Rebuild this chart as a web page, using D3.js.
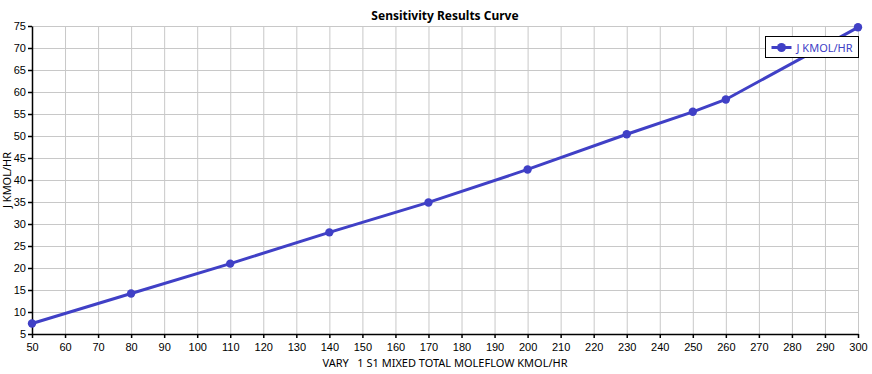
<!DOCTYPE html>
<html>
<head>
<meta charset="utf-8">
<script src="https://cdn.jsdelivr.net/npm/d3@7"></script>
<style>
  body { margin: 0; background: #fff; }
  svg { display: block; font-family: "Noto Sans", "Open Sans", sans-serif; }
  .grid line { stroke: #c8c8c8; stroke-width: 1; }
  .axis text { font-size: 11px; fill: #000; }
</style>
</head>
<body>
<svg width="872" height="374"></svg>
<script>
// data
const flowValues = [50, 80, 110, 140, 170, 200, 230, 250, 260, 300];
const jValues = [7.4, 14.2, 21.0, 28.1, 34.9, 42.4, 50.4, 55.5, 58.3, 74.7];
const xTicks = d3.range(50, 301, 10);
const yTicks = d3.range(5, 76, 5);
const seriesName = 'J KMOL/HR';

function whenLoaded() {
const svg = d3.select('svg');
const color = '#4040c6';

const x = d3.scaleLinear().domain([50, 300]).range([32, 858]);
const y = d3.scaleLinear().domain([5, 75]).range([334, 26]);

// grid
const grid = svg.append('g').attr('class', 'grid');
grid.selectAll('.gx').data(xTicks.slice(1))
  .enter().append('line')
    .attr('x1', d => x(d) + 0.5).attr('x2', d => x(d) + 0.5)
    .attr('y1', y(75)).attr('y2', y(5));
grid.selectAll('.gy').data(yTicks.slice(1))
  .enter().append('line')
    .attr('y1', d => y(d) + 0.5).attr('y2', d => y(d) + 0.5)
    .attr('x1', x(50)).attr('x2', x(300));

svg.append('g')
    .attr('class', 'axis')
    .attr('transform', `translate(0,${y(5)})`)
    .call(d3.axisBottom(x).tickValues(xTicks).tickSize(4).tickSizeOuter(0))
    .call(g => g.selectAll('line,path').attr('stroke', '#000').attr('stroke-width', 1.5))
    .call(g => g.selectAll('text').attr('dy', '0.9em'));

svg.append('g')
    .attr('class', 'axis')
    .attr('transform', `translate(${x(50)},0)`)
    .call(d3.axisLeft(y).tickValues(yTicks).tickSize(4).tickSizeOuter(0))
    .call(g => g.selectAll('line,path').attr('stroke', '#000').attr('stroke-width', 1.5))
    .call(g => g.selectAll('text').attr('x', -6));

const points = flowValues.map((v, i) => [v, jValues[i]]);

svg.append('path')
    .datum(points)
    .attr('fill', 'none')
    .attr('stroke', color)
    .attr('stroke-width', 3)
    .attr('d', d3.line().x(d => x(d[0])).y(d => y(d[1])));

svg.selectAll('circle.pt').data(points)
  .enter().append('circle')
    .attr('class', 'pt')
    .attr('cx', d => x(d[0]))
    .attr('cy', d => y(d[1]))
    .attr('r', 4.2)
    .attr('fill', color);

// title & labels
svg.append('text')
    .attr('x', 445).attr('y', 20)
    .attr('text-anchor', 'middle')
    .attr('font-size', 12).attr('font-weight', 'bold')
    .text('Sensitivity Results Curve');

svg.append('text')
    .attr('x', 445).attr('y', 367)
    .attr('text-anchor', 'middle')
    .attr('font-size', 11)
    .style('white-space', 'pre')
    .text('VARY   1 S1 MIXED TOTAL MOLEFLOW KMOL/HR');

svg.append('text')
    .attr('transform', 'translate(11,180) rotate(-90)')
    .attr('text-anchor', 'middle')
    .attr('font-size', 11)
    .text(seriesName);

// legend
const lg = svg.append('g').attr('transform', 'translate(765.5,36.5)');
lg.append('rect')
    .attr('width', 93).attr('height', 21)
    .attr('fill', '#fff').attr('stroke', '#000');
lg.append('line')
    .attr('x1', 6).attr('x2', 26).attr('y1', 11).attr('y2', 11)
    .attr('stroke', color).attr('stroke-width', 3);
lg.append('circle').attr('cx', 16).attr('cy', 11).attr('r', 4.5).attr('fill', color);
lg.append('text')
    .attr('x', 31).attr('y', 15)
    .attr('font-size', 11).attr('fill', color)
    .text(seriesName);
}

window.onload = whenLoaded;
</script>
</body>
</html>
